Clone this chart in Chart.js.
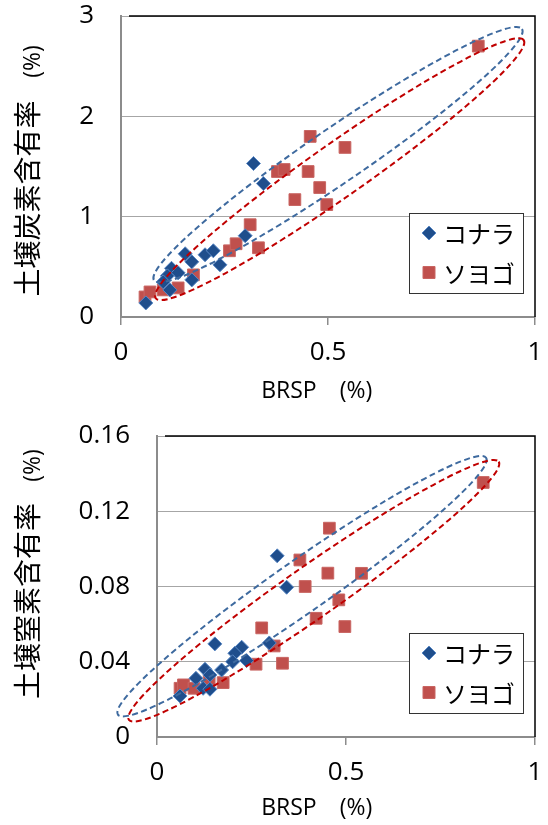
<!DOCTYPE html>
<html><head><meta charset="utf-8">
<script src="https://cdn.jsdelivr.net/npm/chart.js@4/dist/chart.umd.min.js"></script>
<style>
html,body{margin:0;padding:0;background:#fff;}
#w1{position:absolute;left:0;top:0;width:548px;height:410px;}
#w2{position:absolute;left:0;top:410px;width:548px;height:415px;}
</style></head><body>
<div id="w1"><canvas id="c1"></canvas></div>
<div id="w2"><canvas id="c2"></canvas></div>
<script>
// ---------- data ----------
const seriesNames = ['コナラ', 'ソヨゴ'];
const xTitle = 'BRSP\u3000(%)';
const yTitleC = '土壌炭素含有率';
const yTitleN = '土壌窒素含有率';
const yUnit = '(%)';

const xTicks = [0, 0.5, 1];
const xTickLabels = ['0', '0.5', '1'];
const yTicksC = [0, 1, 2, 3];
const yTickLabelsC = ['0', '1', '2', '3'];
const yTicksN = [0, 0.04, 0.08, 0.12, 0.16];
const yTickLabelsN = ['0', '0.04', '0.08', '0.12', '0.16'];

// carbon chart
const konaraBrspC = [0.060, 0.320, 0.344, 0.300, 0.155, 0.171, 0.203, 0.223, 0.239, 0.122, 0.138, 0.112, 0.102, 0.171, 0.118];
const konaraCarbon = [0.14, 1.53, 1.33, 0.81, 0.63, 0.55, 0.62, 0.66, 0.52, 0.485, 0.44, 0.41, 0.35, 0.37, 0.27];
const soyogoBrspC = [0.058, 0.070, 0.102, 0.138, 0.175, 0.262, 0.278, 0.312, 0.332, 0.378, 0.394, 0.420, 0.452, 0.457, 0.480, 0.497, 0.541, 0.863];
const soyogoCarbon = [0.20, 0.25, 0.27, 0.29, 0.42, 0.66, 0.73, 0.92, 0.69, 1.45, 1.47, 1.17, 1.45, 1.80, 1.29, 1.12, 1.69, 2.70];

// nitrogen chart
const konaraBrspN = [0.318, 0.343, 0.153, 0.297, 0.224, 0.206, 0.200, 0.237, 0.171, 0.127, 0.103, 0.140, 0.122, 0.140, 0.061];
const konaraNitrogen = [0.0963, 0.0796, 0.0495, 0.0500, 0.0477, 0.0445, 0.0400, 0.0406, 0.0356, 0.0360, 0.0312, 0.0330, 0.0259, 0.0254, 0.0218];
const soyogoBrspN = [0.061, 0.070, 0.098, 0.138, 0.175, 0.262, 0.277, 0.310, 0.332, 0.378, 0.392, 0.421, 0.452, 0.456, 0.481, 0.497, 0.541, 0.863];
const soyogoNitrogen = [0.0259, 0.0277, 0.0259, 0.0300, 0.0289, 0.0387, 0.0580, 0.0484, 0.0392, 0.0941, 0.0800, 0.0631, 0.0871, 0.1110, 0.0729, 0.0587, 0.0870, 0.1353];

// ellipse major-axis end points in data units [x1, y1, x2, y2]
const ellipseKonaraC = [0.0797, 0.365, 0.9686, 2.871];
const ellipseSoyogoC = [0.0838, 0.187, 0.9727, 2.760];
const ellipseKonaraN = [-0.1034, 0.01186, 0.8706, 0.14846];
const ellipseSoyogoN = [-0.0743, 0.00912, 0.9040, 0.14636];

// ---------- styles ----------
const BLUE_FILL = '#1F4E8C', BLUE_EDGE = '#5A88C4';
const RED_FILL = '#C0504D', RED_EDGE = '#C96562';
const ELL_BLUE = '#3E6A9F', ELL_RED = '#C00000';
const TICK_FONT = {family: "'Open Sans', 'Noto Sans CJK JP'", size: 26};
const CJK = "'Open Sans', 'Noto Sans CJK JP', sans-serif";

function pts(xs, ys) { return xs.map((x, i) => ({x: x, y: ys[i]})); }

function decorPlugin(cfg) {
  return {
    id: 'decor',
    afterDatasetsDraw(chart) {
      const ctx = chart.ctx, xs = chart.scales.x, ys = chart.scales.y, a = chart.chartArea;
      // ellipses
      [[cfg.ellipses[0], ELL_BLUE, cfg.ratios[0]], [cfg.ellipses[1], ELL_RED, cfg.ratios[1]]].forEach(([e, col, ratio]) => {
        const x1 = xs.getPixelForValue(e[0]), y1 = ys.getPixelForValue(e[1]);
        const x2 = xs.getPixelForValue(e[2]), y2 = ys.getPixelForValue(e[3]);
        const cx = (x1 + x2) / 2, cy = (y1 + y2) / 2;
        const ra = Math.hypot(x2 - x1, y2 - y1) / 2;
        const rot = Math.atan2(y2 - y1, x2 - x1);
        ctx.save();
        ctx.strokeStyle = col; ctx.lineWidth = 2; ctx.setLineDash([6, 3.5]);
        ctx.beginPath(); ctx.ellipse(cx, cy, ra, ra * ratio, rot, 0, Math.PI * 2);
        ctx.stroke(); ctx.restore();
      });
      // top / right border
      ctx.save();
      ctx.strokeStyle = '#000'; ctx.lineWidth = 1.5;
      ctx.beginPath();
      ctx.moveTo(a.left + 8, a.top); ctx.lineTo(a.right, a.top); ctx.lineTo(a.right, a.bottom);
      ctx.stroke();
      ctx.restore();
      // legend
      const bw = 114, bh = 80;
      const bx = a.right - 12 - bw, by = a.bottom - 24 - bh;
      ctx.save();
      ctx.fillStyle = '#fff'; ctx.fillRect(bx, by, bw, bh);
      ctx.strokeStyle = '#333'; ctx.lineWidth = 1; ctx.strokeRect(bx + 0.5, by + 0.5, bw, bh);
      const rows = [by + 20, by + 59.5];
      chart.data.datasets.forEach((ds, i) => {
        const mx = bx + 20, my = rows[i];
        ctx.beginPath();
        if (i === 0) {
          const r = 7;
          ctx.moveTo(mx - r, my); ctx.lineTo(mx, my - r); ctx.lineTo(mx + r, my); ctx.lineTo(mx, my + r); ctx.closePath();
        } else {
          ctx.rect(mx - 6, my - 6, 12, 12);
        }
        ctx.fillStyle = ds.backgroundColor; ctx.fill();
        ctx.strokeStyle = ds.borderColor; ctx.lineWidth = 1; ctx.stroke();
        ctx.fillStyle = '#000';
        ctx.font = "24px 'Noto Sans CJK JP'";
        ctx.textAlign = 'left'; ctx.textBaseline = 'middle';
        ctx.fillText(ds.label, bx + 34, my + 1);
      });
      ctx.restore();
      // axis titles
      ctx.save();
      ctx.fillStyle = '#000';
      ctx.font = '23px ' + CJK;
      ctx.textAlign = 'center'; ctx.textBaseline = 'middle';
      ctx.fillText(xTitle, 316.7, cfg.xTitleY);
      ctx.restore();
      ctx.save();
      ctx.fillStyle = '#000';
      ctx.textAlign = 'center';
      ctx.translate(27, cfg.yTitleY);
      ctx.rotate(-Math.PI / 2);
      ctx.font = "28px 'Noto Sans CJK JP'";
      ctx.textBaseline = 'middle';
      ctx.fillText(cfg.yTitle, 0, 0);
      ctx.restore();
      ctx.save();
      ctx.fillStyle = '#000';
      ctx.textAlign = 'center';
      ctx.translate(39.5, cfg.yUnitY);
      ctx.rotate(-Math.PI / 2);
      ctx.font = "23px 'Open Sans'";
      ctx.textBaseline = 'alphabetic';
      ctx.fillText(yUnit, 0, 0);
      ctx.restore();
    }
  };
}

function makeChart(id, cfg) {
  new Chart(document.getElementById(id), {
    type: 'scatter',
    data: {
      datasets: [
        {label: seriesNames[0], data: cfg.konara, pointStyle: 'rectRot', pointRadius: 7, pointHoverRadius: 7,
         backgroundColor: BLUE_FILL, borderColor: BLUE_EDGE, borderWidth: 1},
        {label: seriesNames[1], data: cfg.soyogo, pointStyle: 'rect', pointRadius: 8.3, pointHoverRadius: 8.3,
         backgroundColor: RED_FILL, borderColor: RED_EDGE, borderWidth: 1}
      ]
    },
    options: {
      responsive: true, maintainAspectRatio: false, animation: false,
      events: [],
      layout: {padding: {left: 0, top: cfg.padTop, right: 13, bottom: 0}},
      plugins: {legend: {display: false}, tooltip: {enabled: false}, title: {display: false}},
      scales: {
        x: {
          type: 'linear', min: 0, max: 1,
          afterBuildTicks: s => { s.ticks = xTicks.map(v => ({value: v})); },
          afterFit: s => { s.height = cfg.xHeight; s.paddingLeft = 0; s.paddingRight = 0; s.paddingTop = 0; s.paddingBottom = 0; },
          ticks: {font: TICK_FONT, color: '#000', padding: 12, maxRotation: 0,
                  callback: (v, i) => xTickLabels[i]},
          grid: {drawOnChartArea: false, drawTicks: true, tickLength: 8, color: '#8C8C8C', lineWidth: 1.5},
          border: {display: true, color: '#8C8C8C', width: 2}
        },
        y: {
          type: 'linear', min: 0, max: cfg.yMax,
          afterBuildTicks: s => { s.ticks = cfg.yTicks.map(v => ({value: v})); },
          afterFit: s => { s.width = cfg.yWidth; s.paddingLeft = 0; s.paddingRight = 0; s.paddingTop = 0; s.paddingBottom = 0; },
          ticks: {font: TICK_FONT, color: '#000', padding: 27,
                  callback: (v, i) => cfg.yLabels[i]},
          grid: {drawTicks: false, color: '#A6A6A6', lineWidth: 1},
          border: {display: true, color: '#8C8C8C', width: 2}
        }
      }
    },
    plugins: [decorPlugin(cfg)]
  });
}

makeChart('c1', {
  konara: pts(konaraBrspC, konaraCarbon), soyogo: pts(soyogoBrspC, soyogoCarbon),
  yMax: 3, yTicks: yTicksC, yLabels: yTickLabelsC,
  padTop: 16, xHeight: 93, yWidth: 121,
  ellipses: [ellipseKonaraC, ellipseSoyogoC], ratios: [0.122, 0.119],
  yTitle: yTitleC, xTitleY: 391, yTitleY: 198.5, yUnitY: 61.5
});
makeChart('c2', {
  konara: pts(konaraBrspN, konaraNitrogen), soyogo: pts(soyogoBrspN, soyogoNitrogen),
  yMax: 0.16, yTicks: yTicksN, yLabels: yTickLabelsN,
  padTop: 26, xHeight: 88, yWidth: 157,
  ellipses: [ellipseKonaraN, ellipseSoyogoN], ratios: [0.116, 0.115],
  yTitle: yTitleN, xTitleY: 398, yTitleY: 191, yUnitY: 55.5
});
</script>
</body></html>
